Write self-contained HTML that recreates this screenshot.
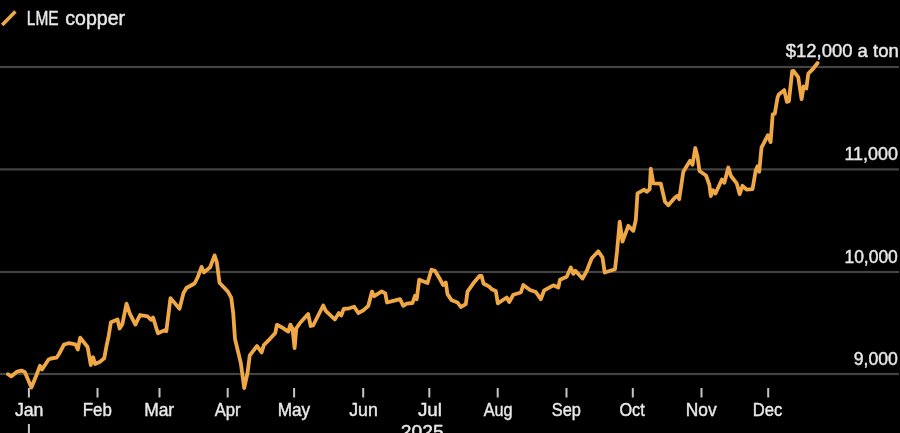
<!DOCTYPE html>
<html><head><meta charset="utf-8"><style>
html,body{margin:0;padding:0;background:#000;}
body{width:900px;height:433px;overflow:hidden;}
svg{display:block;filter:blur(0.4px);}
text{font-family:"Liberation Sans", sans-serif;fill:#e8e8e8;stroke:#e8e8e8;stroke-width:0.45px;}
.m{font-size:19px;}
.y{font-size:18.6px;}
.l{font-size:20px;}
</style></head><body>
<svg width="900" height="433" viewBox="0 0 900 433">
<rect width="900" height="433" fill="#000"/>
<rect x="0" y="65.90" width="899" height="2.2" fill="#434343"/>
<rect x="0" y="168.30" width="899" height="2.2" fill="#434343"/>
<rect x="0" y="270.90" width="899" height="2.2" fill="#434343"/>
<rect x="0" y="372.90" width="899" height="2.2" fill="#434343"/>
<rect x="27.9" y="388" width="2" height="9.5" fill="#c4c4c4"/>
<text x="14.90" y="415.8" class="m" textLength="28.60" lengthAdjust="spacingAndGlyphs">Jan</text>
<rect x="96.5" y="388" width="2" height="9.5" fill="#c4c4c4"/>
<text x="82.79" y="415.8" class="m" textLength="29.08" lengthAdjust="spacingAndGlyphs">Feb</text>
<rect x="158.5" y="388" width="2" height="9.5" fill="#c4c4c4"/>
<text x="144.15" y="415.8" class="m" textLength="30.04" lengthAdjust="spacingAndGlyphs">Mar</text>
<rect x="226.7" y="388" width="2" height="9.5" fill="#c4c4c4"/>
<text x="214.71" y="415.8" class="m" textLength="25.98" lengthAdjust="spacingAndGlyphs">Apr</text>
<rect x="293.1" y="388" width="2" height="9.5" fill="#c4c4c4"/>
<text x="277.67" y="415.8" class="m" textLength="32.43" lengthAdjust="spacingAndGlyphs">May</text>
<rect x="362.2" y="388" width="2" height="9.5" fill="#c4c4c4"/>
<text x="349.20" y="415.8" class="m" textLength="28.60" lengthAdjust="spacingAndGlyphs">Jun</text>
<rect x="428.3" y="388" width="2" height="9.5" fill="#c4c4c4"/>
<text x="417.89" y="415.8" class="m" textLength="24.08" lengthAdjust="spacingAndGlyphs">Jul</text>
<rect x="496.7" y="388" width="2" height="9.5" fill="#c4c4c4"/>
<text x="483.71" y="415.8" class="m" textLength="28.91" lengthAdjust="spacingAndGlyphs">Aug</text>
<rect x="565.5" y="388" width="2" height="9.5" fill="#c4c4c4"/>
<text x="551.87" y="415.8" class="m" textLength="29.09" lengthAdjust="spacingAndGlyphs">Sep</text>
<rect x="631.8" y="388" width="2" height="9.5" fill="#c4c4c4"/>
<text x="619.38" y="415.8" class="m" textLength="25.32" lengthAdjust="spacingAndGlyphs">Oct</text>
<rect x="700.5" y="388" width="2" height="9.5" fill="#c4c4c4"/>
<text x="685.75" y="415.8" class="m" textLength="30.85" lengthAdjust="spacingAndGlyphs">Nov</text>
<rect x="767.2" y="388" width="2" height="9.5" fill="#c4c4c4"/>
<text x="752.81" y="415.8" class="m" textLength="29.56" lengthAdjust="spacingAndGlyphs">Dec</text>
<rect x="27.9" y="424" width="2" height="10" fill="#c4c4c4"/>
<text x="400.84" y="437.8" class="m" textLength="42.86" lengthAdjust="spacingAndGlyphs">2025</text>
<text x="844.41" y="159.8" class="y" textLength="53.51" lengthAdjust="spacingAndGlyphs">11,000</text>
<text x="844.44" y="262.5" class="y" textLength="53.39" lengthAdjust="spacingAndGlyphs">10,000</text>
<text x="853.82" y="364.5" class="y" textLength="44.11" lengthAdjust="spacingAndGlyphs">9,000</text>
<text x="785.69" y="57.2" class="y" textLength="113.04" lengthAdjust="spacingAndGlyphs">$12,000 a ton</text>
<path d="M8,374.2 L11.2,376.4 L17.2,371.6 L21.4,370.6 L24.8,372 L31.4,387.5 L35.8,376.7 L40,365.8 L42,369.5 L48.6,359.5 L51,358.5 L56.5,357.7 L59,354 L64,344.5 L69,343.2 L75.3,344.3 L77.8,349.5 L80.2,337.6 L87.6,347 L90.8,365 L93.1,357.2 L95.1,364 L100,361.7 L104.2,358.3 L106.7,345 L108.4,337.5 L110.9,322.2 L117.5,319.5 L119.6,328.5 L122.3,324.3 L126.5,303.6 L129.8,313.6 L135.4,324.6 L140,315 L147.5,316.4 L151.2,319.8 L153.1,317.6 L157.9,333.3 L164.8,330.1 L166.3,331.2 L170.5,298.1 L179.5,308.8 L183.5,293 L186.4,288 L194.5,283.5 L197.6,277.5 L201.6,266.9 L204,272.4 L210.1,267.2 L214.6,255.4 L216.8,262 L219.5,282.8 L228,291.8 L231.2,297.6 L233.2,313 L235,339 L240.8,363 L244.2,388 L247.5,373 L249.8,355.3 L257,346 L261.6,352.4 L263.9,345 L270,338.8 L275.3,332.9 L276.9,324.8 L281.6,327.2 L288.3,331.6 L290.4,324.6 L292.5,328.6 L294.6,348.1 L296.3,328.4 L300,323 L308.1,314 L310.7,326 L313.1,325.5 L323.2,305.5 L325.8,310.8 L334.8,319.5 L338.9,313 L341.2,315.6 L343.7,309 L349.2,308.3 L354.2,306.7 L358.3,313 L363.3,310.3 L368.3,305.8 L372,291.6 L374.2,296.2 L381.7,291.3 L385.3,293.3 L387,302.5 L393.3,300.8 L400,299.2 L403.3,305.8 L406.7,303.7 L412.5,303 L415,295.8 L416.7,299.2 L419.2,279.7 L427.5,283 L431.5,269.8 L435,270.8 L440,279.2 L443,285 L445.8,282.5 L447.5,294.2 L451.7,300.3 L457.5,302.5 L460.8,307 L465.8,304.2 L467.5,291.7 L473.3,283.3 L479.5,276 L481.5,275.8 L483.5,283.5 L489.2,286.7 L491.7,289.2 L495.8,291 L497.8,303.3 L506.7,297.5 L509.2,302 L513.3,294.7 L520.8,292.5 L523.3,285 L530,290 L535.8,292 L540.8,299.2 L544.2,290.3 L553.3,285.3 L558.3,287.5 L560,279.7 L566.7,276.7 L570.8,267.5 L573.3,273.8 L575.4,270.8 L582.5,278.5 L586.7,271 L591.7,258.3 L598.3,251.3 L602.5,257.5 L604.7,272.5 L615,269.2 L617,251.7 L619.7,221.7 L622.5,241.7 L628.3,225.8 L633.3,230.8 L635.8,220 L637.5,193.3 L644.2,189.7 L646.7,191.7 L649.7,189.2 L650.8,168.7 L653.3,183.3 L660.8,183.7 L665,201.7 L668.3,205.3 L675,197.5 L677.5,195.8 L679.2,199.2 L683.3,171.7 L690,160.8 L692.5,164.7 L695.3,148 L697.5,156.7 L699.5,171 L706,175.5 L709.3,184.5 L710.8,196 L713,190.2 L715.5,193.5 L721.9,179.5 L724.4,182.8 L728.3,167.5 L731,176 L736.7,183.3 L739.7,194.2 L742.5,185.8 L746.7,189.7 L752.5,189.2 L755.8,170 L757.5,166.3 L759.2,171.7 L761.5,147.6 L767.9,135.2 L770.6,142.1 L772.7,114.4 L774.8,113.7 L777.5,97.8 L778.8,94.5 L784.2,90.1 L786.9,101.9 L788.9,101.2 L792.2,71.1 L793.5,70.8 L798.2,77.1 L801.6,99.2 L803.6,86.5 L806.3,88.5 L808.3,73.7 L812.3,69.7 L817.6,63" fill="none" stroke="#efa845" stroke-width="3.8" stroke-linejoin="round" stroke-linecap="round"/>
<line x1="2.2" y1="24.9" x2="15.4" y2="11.5" stroke="#efa845" stroke-width="3.6"/>
<text x="26.81" y="24.9" class="l" textLength="31.78" lengthAdjust="spacingAndGlyphs">LME</text>
<text x="65.23" y="24.9" class="l" textLength="59.93" lengthAdjust="spacingAndGlyphs">copper</text>
</svg>
</body></html>
